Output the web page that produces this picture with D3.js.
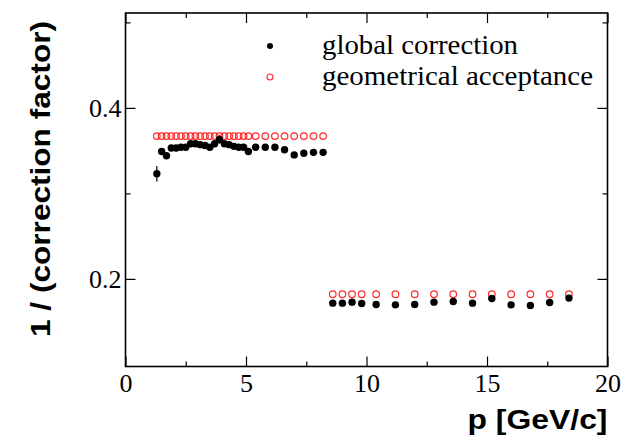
<!DOCTYPE html>
<html><head><meta charset="utf-8">
<script src="https://cdn.jsdelivr.net/npm/d3@7"></script>
<style>body{margin:0;background:#fff}svg{display:block}</style>
</head><body>
<script>
// ---- data ----
const pLow = [1.3,1.5,1.7,1.9,2.1,2.3,2.5,2.7,2.9,3.1,3.3,3.5,3.7,3.9,4.1,4.3,4.5,4.7,4.9,5.1,
              5.4,5.8,6.2,6.6,7.0,7.4,7.8,8.2];
const globalLow = [0.323,0.349,0.344,0.353,0.353,0.354,0.354,0.358,0.358,0.357,0.356,0.354,0.358,0.363,0.358,0.357,0.355,0.354,0.354,0.349,
                   0.354,0.354,0.354,0.351,0.345,0.347,0.348,0.348];
const globalLowErr = [0.009,0.003,0.003,0.002,0.002,0.002,0.002,0.002,0.002,0.002,0.002,0.002,0.002,0.005,0.002,0.002,0.002,0.002,0.002,0.002,
                      0.002,0.002,0.002,0.002,0.002,0.002,0.002,0.002];
const geomLow = [0.367,0.367,0.367,0.367,0.367,0.367,0.367,0.367,0.367,0.367,0.367,0.367,0.367,0.367,0.367,0.367,0.367,0.367,0.367,0.367,
                 0.367,0.367,0.367,0.367,0.367,0.367,0.367,0.367];
const pHigh = [8.6,9.0,9.4,9.8,10.4,11.2,12.0,12.8,13.6,14.4,15.2,16.0,16.8,17.6,18.4];
const globalHigh = [0.1716,0.1716,0.1728,0.1712,0.170,0.1696,0.170,0.1728,0.1735,0.1716,0.177,0.1696,0.1688,0.1723,0.1775];
const globalHighErr = [0.002,0.002,0.002,0.002,0.002,0.002,0.002,0.002,0.002,0.002,0.003,0.002,0.002,0.002,0.003];
const geomHigh = [0.182,0.182,0.182,0.182,0.182,0.182,0.182,0.182,0.182,0.182,0.182,0.182,0.182,0.182,0.182];
const xMajorTicks = [0,5,10,15,20];
const xMinorTicks = [2.5,7.5,12.5,17.5];
const yMajorTicks = [0.2,0.4];
const yMinorTicks = [0.3,0.5];
const legendLabels = ["global correction","geometrical acceptance"];
const xTitle = "p [GeV/c]";
const yTitle = "1 / (correction factor)";

// ---- layout ----
const W = 635, H = 438;
const L = 125.5, R = 607.5, T = 13, B = 366.5;
const svg = d3.select("body").append("svg").attr("width", W).attr("height", H);
const x = d3.scaleLinear().domain([0,20]).range([L,R]);
const y = d3.scaleLinear().domain([0.0975,0.511]).range([B,T]);

const serif = "'Liberation Serif','Times New Roman',serif";
const sans = "'Liberation Sans',Arial,Helvetica,sans-serif";

function styleAxis(g){ g.select(".domain").remove(); g.selectAll(".tick line").attr("stroke","#000").attr("stroke-width",1.2); }

// bottom axis (inward ticks)
svg.append("g").attr("transform",`translate(0,${B})`)
  .call(d3.axisBottom(x).tickValues(xMajorTicks).tickSize(-10).tickPadding(7).tickFormat(d3.format("d")))
  .call(styleAxis)
  .call(g=>g.selectAll("text").attr("font-family",serif).attr("font-size",26).attr("fill","#000"));
svg.append("g").attr("transform",`translate(0,${B})`)
  .call(d3.axisBottom(x).tickValues(xMinorTicks).tickSize(-5).tickFormat(""))
  .call(styleAxis);
// top axis
svg.append("g").attr("transform",`translate(0,${T})`)
  .call(d3.axisTop(x).tickValues(xMajorTicks).tickSize(-10).tickFormat(""))
  .call(styleAxis);
svg.append("g").attr("transform",`translate(0,${T})`)
  .call(d3.axisTop(x).tickValues(xMinorTicks).tickSize(-5).tickFormat(""))
  .call(styleAxis);
// left axis
svg.append("g").attr("transform",`translate(${L},0)`)
  .call(d3.axisLeft(y).tickValues(yMajorTicks).tickSize(-10).tickPadding(4).tickFormat(d3.format(".1f")))
  .call(styleAxis)
  .call(g=>g.selectAll("text").attr("font-family",serif).attr("font-size",26).attr("fill","#000"));
svg.append("g").attr("transform",`translate(${L},0)`)
  .call(d3.axisLeft(y).tickValues(yMinorTicks).tickSize(-5).tickFormat(""))
  .call(styleAxis);
// right axis
svg.append("g").attr("transform",`translate(${R},0)`)
  .call(d3.axisRight(y).tickValues(yMajorTicks).tickSize(-10).tickFormat(""))
  .call(styleAxis);
svg.append("g").attr("transform",`translate(${R},0)`)
  .call(d3.axisRight(y).tickValues(yMinorTicks).tickSize(-5).tickFormat(""))
  .call(styleAxis);

// frame
svg.append("rect").attr("x",L).attr("y",T).attr("width",R-L).attr("height",B-T)
  .attr("fill","none").attr("stroke","#000").attr("stroke-width",1.6);

// data
const geom = pLow.map((p,i)=>({p, v:geomLow[i]})).concat(pHigh.map((p,i)=>({p, v:geomHigh[i]})));
const glob = pLow.map((p,i)=>({p, v:globalLow[i], e:globalLowErr[i]}))
  .concat(pHigh.map((p,i)=>({p, v:globalHigh[i], e:globalHighErr[i]})));

svg.append("g").selectAll("circle").data(geom).join("circle")
  .attr("cx",d=>x(d.p)).attr("cy",d=>y(d.v)).attr("r",3.3)
  .attr("fill","none").attr("stroke","#ff2a2a").attr("stroke-width",1.2);

svg.append("g").selectAll("line").data(glob).join("line")
  .attr("x1",d=>x(d.p)).attr("x2",d=>x(d.p))
  .attr("y1",d=>y(d.v-d.e)).attr("y2",d=>y(d.v+d.e))
  .attr("stroke","#000").attr("stroke-width",1.2);
svg.append("g").selectAll("circle").data(glob).join("circle")
  .attr("cx",d=>x(d.p)).attr("cy",d=>y(d.v)).attr("r",3.7).attr("fill","#000");

// legend
const lg = svg.append("g");
lg.append("circle").attr("cx",270).attr("cy",46).attr("r",3).attr("fill","#000");
lg.append("circle").attr("cx",270).attr("cy",77).attr("r",3).attr("fill","none").attr("stroke","#ff2a2a").attr("stroke-width",1.1);
lg.append("text").attr("x",322).attr("y",54).text(legendLabels[0])
  .attr("font-family",serif).attr("font-size",26.5).attr("textLength",196).attr("lengthAdjust","spacingAndGlyphs");
lg.append("text").attr("x",322).attr("y",85).text(legendLabels[1])
  .attr("font-family",serif).attr("font-size",26.5).attr("textLength",271).attr("lengthAdjust","spacingAndGlyphs");

// titles
svg.append("text").attr("x",R).attr("y",429).attr("text-anchor","end").text(xTitle)
  .attr("font-family",sans).attr("font-weight","bold").attr("font-size",27)
  .attr("textLength",140).attr("lengthAdjust","spacingAndGlyphs");
svg.append("text").attr("transform",`translate(50,${T+8}) rotate(-90)`).attr("text-anchor","end").text(yTitle)
  .attr("font-family",sans).attr("font-weight","bold").attr("font-size",27)
  .attr("textLength",316).attr("lengthAdjust","spacingAndGlyphs");
</script>
</body></html>
